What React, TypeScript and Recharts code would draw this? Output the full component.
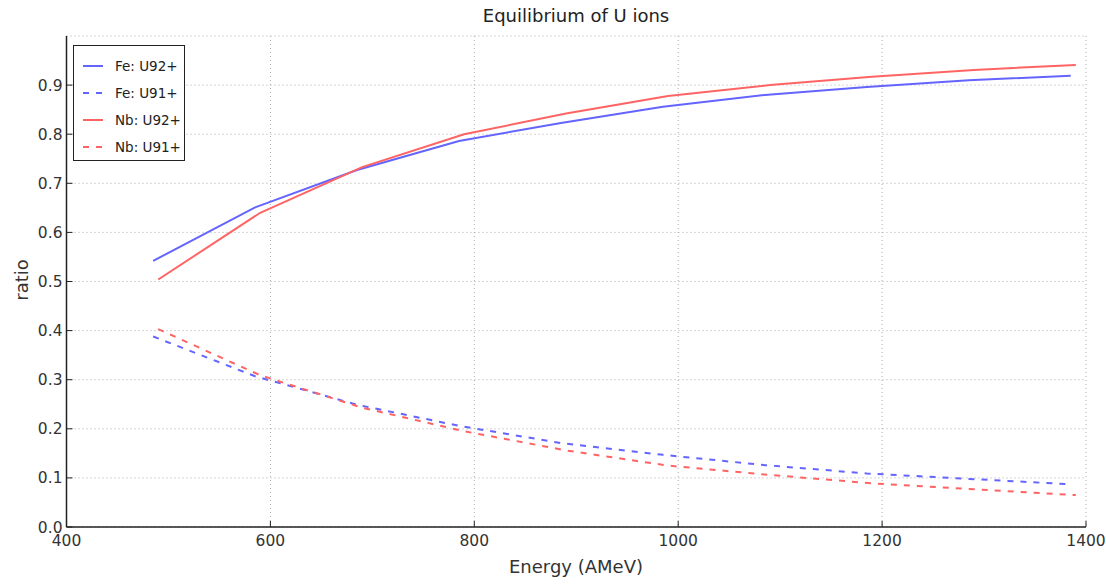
import { LineChart, Line, XAxis, YAxis, CartesianGrid } from 'recharts'

const energyFe = [485, 585, 685, 785, 885, 985, 1085, 1185, 1285, 1385]
const energyNb = [490, 590, 690, 790, 890, 990, 1090, 1190, 1290, 1390]

const feU92 = [0.542, 0.651, 0.727, 0.786, 0.823, 0.856, 0.88, 0.896, 0.91, 0.919]
const feU91 = [0.388, 0.307, 0.249, 0.206, 0.171, 0.147, 0.126, 0.109, 0.098, 0.087]
const nbU92 = [0.504, 0.64, 0.733, 0.8, 0.842, 0.878, 0.9, 0.917, 0.931, 0.941]
const nbU91 = [0.403, 0.309, 0.243, 0.195, 0.156, 0.125, 0.106, 0.089, 0.077, 0.065]

const xTicks = [400, 600, 800, 1000, 1200, 1400]
const yTicks = [0, 0.1, 0.2, 0.3, 0.4, 0.5, 0.6, 0.7, 0.8, 0.9]

const blue = '#6464ff'
const red = '#ff6464'

const toPoints = (xs: number[], ys: number[]) => xs.map((x, i) => ({ x, y: ys[i] }))

const series = [
  { name: 'Fe: U92+', data: toPoints(energyFe, feU92), color: blue, dashed: false },
  { name: 'Fe: U91+', data: toPoints(energyFe, feU91), color: blue, dashed: true },
  { name: 'Nb: U92+', data: toPoints(energyNb, nbU92), color: red, dashed: false },
  { name: 'Nb: U91+', data: toPoints(energyNb, nbU91), color: red, dashed: true },
]

const font = '"DejaVu Sans", sans-serif'
const tickStyle = { fontSize: 15.5, fill: '#333', fontFamily: font }
const noTick = () => <g />

export default function App() {
  return (
    <div style={{ position: 'absolute', left: 0, top: 0, width: 1106, height: 585, background: '#fff', fontFamily: font }}>
      <div style={{ position: 'absolute', top: 5, left: 66, width: 1020, textAlign: 'center', fontSize: 18, color: '#222' }}>
        Equilibrium of U ions
      </div>
      <div style={{ position: 'absolute', top: 556, left: 66, width: 1020, textAlign: 'center', fontSize: 18, color: '#333' }}>
        Energy (AMeV)
      </div>
      <div
        style={{
          position: 'absolute',
          left: 21,
          top: 280,
          transform: 'translate(-50%, -50%) rotate(-90deg)',
          fontSize: 18,
          color: '#333',
          whiteSpace: 'nowrap',
        }}
      >
        ratio
      </div>

      <LineChart width={1106} height={585} margin={{ top: 36, right: 20, bottom: 0, left: 0 }}>
        <CartesianGrid stroke="#aaa" strokeDasharray="1 3" />
        <XAxis
          type="number"
          dataKey="x"
          domain={[400, 1400]}
          ticks={xTicks}
          height={58}
          allowDuplicatedCategory={false}
          tick={tickStyle}
          tickSize={-6}
          tickMargin={14}
          stroke="#222"
          axisLine={{ stroke: '#222', strokeWidth: 1.5 }}
        />
        <XAxis
          xAxisId="top"
          orientation="top"
          type="number"
          domain={[400, 1400]}
          ticks={xTicks}
          height={0}
          tick={noTick}
          tickSize={-6}
          stroke="#222"
          axisLine={{ stroke: '#222', strokeWidth: 1.5 }}
        />
        <YAxis
          type="number"
          domain={[0, 1]}
          ticks={yTicks}
          width={66.5}
          tick={tickStyle}
          tickFormatter={(v: number) => v.toFixed(1)}
          tickSize={-6}
          tickMargin={10}
          stroke="#222"
          axisLine={{ stroke: '#222', strokeWidth: 1.5 }}
        />
        <YAxis
          yAxisId="right"
          orientation="right"
          type="number"
          domain={[0, 1]}
          ticks={yTicks}
          width={0}
          tick={noTick}
          tickSize={-6}
          stroke="#222"
          axisLine={{ stroke: '#222', strokeWidth: 1.5 }}
        />
        {series.map((s) => (
          <Line
            key={s.name}
            data={s.data}
            dataKey="y"
            name={s.name}
            type="linear"
            stroke={s.color}
            strokeWidth={2}
            strokeDasharray={s.dashed ? '6 7' : undefined}
            dot={false}
            isAnimationActive={false}
          />
        ))}
      </LineChart>

      <div
        style={{
          position: 'absolute',
          left: 73,
          top: 45,
          width: 112,
          height: 116,
          border: '1.5px solid #222',
          background: '#fff',
          boxSizing: 'border-box',
          padding: '6px 0 0 8px',
        }}
      >
        {series.map((s) => (
          <div key={s.name} style={{ display: 'flex', alignItems: 'center', height: 27, fontSize: 13.5, color: '#222' }}>
            <svg width={22} height={6} style={{ marginRight: 11 }}>
              <line
                x1={1}
                y1={3}
                x2={21}
                y2={3}
                stroke={s.color}
                strokeWidth={2}
                strokeDasharray={s.dashed ? '6 7' : undefined}
              />
            </svg>
            {s.name}
          </div>
        ))}
      </div>
    </div>
  )
}
